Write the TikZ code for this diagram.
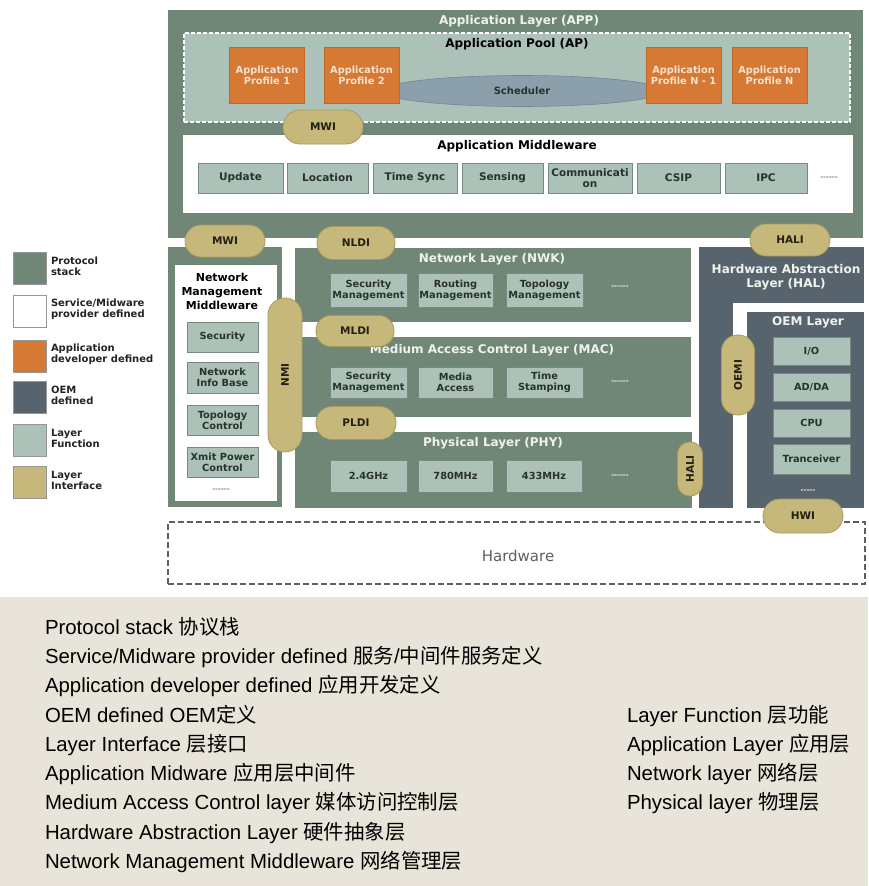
\documentclass[tikz,border=0pt]{standalone}
\usepackage{fontspec}
\setmainfont{DejaVu Sans}
\newfontfamily\notefont{Liberation Sans}
\newfontfamily\cjk{Noto Sans CJK SC}
\usetikzlibrary{shapes.geometric,fit}

% palette
\definecolor{stack}{RGB}{112,134,119}
\definecolor{pool}{RGB}{172,194,184}
\definecolor{fnfill}{RGB}{172,194,184}
\definecolor{fnline}{RGB}{118,138,127}
\definecolor{fntext}{RGB}{40,50,45}
\definecolor{iface}{RGB}{197,184,122}
\definecolor{ifline}{RGB}{168,154,94}
\definecolor{pilltext}{RGB}{35,33,20}
\definecolor{appdev}{RGB}{214,121,52}
\definecolor{appline}{RGB}{190,104,40}
\definecolor{proftext}{RGB}{248,226,205}
\definecolor{oem}{RGB}{87,100,110}
\definecolor{sched}{RGB}{140,160,172}
\definecolor{schedline}{RGB}{112,134,150}
\definecolor{notebg}{RGB}{233,228,217}
\definecolor{hwline}{RGB}{95,95,95}
\definecolor{legline}{RGB}{150,150,150}
\definecolor{legtext}{RGB}{35,35,35}
\definecolor{lighttext}{RGB}{240,242,238}

% a row of separate hyphens (no dash ligatures)
\newcommand{\hyprow}{-{}-{}-{}-{}-{}-}

\begin{document}
\begin{tikzpicture}[x=1pt,y=-1pt,
  every node/.style={inner sep=0pt, outer sep=0pt},
  region/.style={fill=stack},
  oemregion/.style={fill=oem},
  ttl/.style={font=\bfseries\fontsize{12}{14}\selectfont, text=lighttext, align=center},
  ttlk/.style={font=\bfseries\fontsize{12}{14}\selectfont, text=black, align=center},
  fnbox/.style={draw=fnline, line width=0.8pt, fill=fnfill, text=fntext, align=center,
    font=\bfseries\fontsize{10.5}{11.5}\selectfont},
  fnsmall/.style={fnbox, font=\bfseries\fontsize{9.8}{10.8}\selectfont},
  pill/.style={draw=ifline, line width=0.8pt, fill=iface, text=pilltext,
    font=\bfseries\fontsize{10.5}{11}\selectfont},
  profile/.style={fill=appdev, draw=appline, line width=0.6pt, text=proftext, align=center,
    font=\bfseries\fontsize{9.8}{10.8}\selectfont, minimum width=75pt, minimum height=56pt},
  dotsdark/.style={font=\bfseries\fontsize{7}{7}\selectfont, text=gray},
  dotslight/.style={font=\bfseries\fontsize{7}{7}\selectfont, text=lighttext},
  legbox/.style={draw=legline, line width=0.8pt, minimum width=33pt, minimum height=32pt},
  legtxt/.style={anchor=west, align=left, font=\bfseries\fontsize{10}{11}\selectfont, text=legtext},
  noteline/.style={anchor=base west, font=\notefont\fontsize{20.4}{24}\selectfont, text=black}
]
\useasboundingbox (0,0) rectangle (868,886);

% note panel
\fill[notebg] (0,597) rectangle (868,886);

% ---------------- hardware ----------------
\node[fit={(168,522) (865,584)}, fill=white, draw=hwline, line width=1.6pt,
  dash pattern=on 6pt off 3pt] (hw) {};
\node[font=\fontsize{15}{17}\selectfont, text=hwline] (hwtext) at (518,556) {Hardware};

% ---------------- application layer ----------------
\node[region, fit={(168,10) (863,238)}] (app) {};
\node[ttl] (apptitle) at (519,21) {Application Layer (APP)};
\node[fit={(184,33) (850,122)}, fill=pool, draw=white, line width=1.6pt,
  dash pattern=on 4pt off 2pt] (pool) {};
\node[ttlk] (pooltitle) at (517,44) {Application Pool (AP)};
\node[ellipse, fill=sched, draw=schedline, line width=0.6pt, minimum width=280pt,
  minimum height=31pt, font=\bfseries\fontsize{10}{11}\selectfont, text=fntext] (sched) at (522,91) {Scheduler};
\node[profile] (prof1) at (267,75) {Application\\Profile 1};
\node[profile] (prof2) at (361.5,75) {Application\\Profile 2};
\node[profile] (profn1) at (683.5,75) {Application\\Profile N - 1};
\node[profile] (profn) at (769.5,75) {Application\\Profile N};

\node[fit={(183,135) (853,213)}, fill=white] (mw) {};
\node[ttlk] (mwtitle) at (517,146) {Application Middleware};
\node[fnbox, minimum width=85pt, minimum height=30pt] (upd) at (240.5,178) {Update};
\node[fnbox, minimum width=81pt, minimum height=30pt] (loc) at (327.5,178) {Location};
\node[fnbox, minimum width=84pt, minimum height=30pt] (tsync) at (415,178) {Time Sync};
\node[fnbox, minimum width=81pt, minimum height=30pt] (sens) at (502.5,178) {Sensing};
\node[fnbox, minimum width=84pt, minimum height=30pt] (comm) at (590,178) {Communicati\\on};
\node[fnbox, minimum width=83pt, minimum height=30pt] (csip) at (678.5,178) {CSIP};
\node[fnbox, minimum width=82pt, minimum height=30pt] (ipc) at (766,178) {IPC};
\node[dotsdark] (mwdots) at (829,178) {\hyprow};
\node[pill, rounded corners=17pt, minimum width=80pt, minimum height=34pt] (mwi1) at (323,127) {MWI};

% ---------------- network management middleware ----------------
\node[region, fit={(168,247) (282,507)}] (nmm) {};
\node[fit={(175,265) (277,501)}, fill=white] (nmmin) {};
\node[font=\bfseries\fontsize{11}{14}\selectfont, text=black, align=center] (nmmtitle) at (222,291)
  {Network\\Management\\Middleware};
\node[fnsmall, minimum width=71pt, minimum height=30pt] (nsec) at (222.5,337) {Security};
\node[fnsmall, minimum width=71pt, minimum height=31pt] (nnib) at (222.5,377.5) {Network\\Info Base};
\node[fnsmall, minimum width=71pt, minimum height=30pt] (ntop) at (222.5,420) {Topology\\Control};
\node[fnsmall, minimum width=71pt, minimum height=30pt] (nxmit) at (222.5,462) {Xmit Power\\Control};
\node[dotsdark] (nmmdots) at (221,490) {\hyprow};

% ---------------- network layer ----------------
\node[region, fit={(295,248) (691,322)}] (nwk) {};
\node[ttl] (nwktitle) at (492,259) {Network Layer (NWK)};
\node[fnsmall, minimum width=77pt, minimum height=34pt] (nwsec) at (368.5,290) {Security\\Management};
\node[fnsmall, minimum width=75pt, minimum height=34pt] (nwrout) at (455.5,290) {Routing\\Management};
\node[fnsmall, minimum width=77pt, minimum height=34pt] (nwtop) at (544.5,290) {Topology\\Management};
\node[dotslight] (nwkdots) at (620,287) {\hyprow};

% ---------------- MAC layer ----------------
\node[region, fit={(295,337) (691,417)}] (mac) {};
\node[ttl] (mactitle) at (492,350) {Medium Access Control Layer (MAC)};
\node[fnsmall, minimum width=77pt, minimum height=31pt] (macsec) at (368.5,382.5) {Security\\Management};
\node[fnsmall, minimum width=75pt, minimum height=31pt] (macmed) at (455.5,382.5) {Media\\Access};
\node[fnsmall, minimum width=77pt, minimum height=31pt] (macts) at (544.5,382.5) {Time\\Stamping};
\node[dotslight] (macdots) at (620,382) {\hyprow};

% ---------------- physical layer ----------------
\node[region, fit={(295,432) (692,508)}] (phy) {};
\node[ttl] (phytitle) at (493,443) {Physical Layer (PHY)};
\node[fnsmall, minimum width=77pt, minimum height=32pt] (p24) at (368.5,476) {2.4GHz};
\node[fnsmall, minimum width=75pt, minimum height=32pt] (p780) at (455.5,476) {780MHz};
\node[fnsmall, minimum width=76pt, minimum height=32pt] (p433) at (544,476) {433MHz};
\node[dotslight] (phydots) at (620,476) {\hyprow};

% ---------------- hardware abstraction layer ----------------
\node[oemregion, fit={(699,247) (864,508)}] (hal) {};
\node[ttl] (haltitle) at (786,277) {Hardware Abstraction\\Layer (HAL)};
\node[fit={(733,303) (864,508)}, fill=white] (halgap) {};
\node[oemregion, fit={(747,312) (864,508)}] (oemlayer) {};
\node[ttl] (oemtitle) at (808,322) {OEM Layer};
\node[fnsmall, minimum width=77pt, minimum height=28pt] (io) at (811.5,351) {I/O};
\node[fnsmall, minimum width=77pt, minimum height=28pt] (adda) at (811.5,387) {AD/DA};
\node[fnsmall, minimum width=77pt, minimum height=28pt] (cpu) at (811.5,423) {CPU};
\node[fnsmall, minimum width=77pt, minimum height=30pt] (trx) at (811.5,459) {Tranceiver};
\node[dotslight] (oemdots) at (808,491) {-{}-{}-{}-{}-};

% ---------------- layer interfaces ----------------
\node[pill, rounded corners=16pt, minimum width=80pt, minimum height=32pt] (mwi2) at (225,241) {MWI};
\node[pill, rounded corners=16pt, minimum width=78pt, minimum height=33pt] (nldi) at (356,243) {NLDI};
\node[pill, rounded corners=16pt, minimum width=80pt, minimum height=32pt] (hali1) at (790,240) {HALI};
\node[pill, rounded corners=15pt, minimum width=78pt, minimum height=31pt] (mldi) at (355,331) {MLDI};
\node[pill, rounded corners=16pt, minimum width=80pt, minimum height=33pt] (pldi) at (356,423) {PLDI};
\node[pill, rotate=90, rounded corners=17pt, minimum width=154pt, minimum height=34pt] (nmi) at (285,375) {NMI};
\node[pill, rotate=90, rounded corners=12pt, minimum width=54pt, minimum height=25pt] (hali2) at (690,469) {HALI};
\node[pill, rotate=90, rounded corners=16pt, minimum width=80pt, minimum height=33pt] (oemi) at (738,375) {OEMI};
\node[pill, rounded corners=17pt, minimum width=80pt, minimum height=34pt] (hwi) at (803,516) {HWI};

% ---------------- legend ----------------
\node[legbox, fill=stack] (lg1) at (29.5,268.5) {};
\node[legtxt] (lt1) at (51,266) {Protocol\\stack};
\node[legbox, fill=white] (lg2) at (29.5,311.5) {};
\node[legtxt] (lt2) at (51,309) {Service/Midware\\provider defined};
\node[legbox, fill=appdev] (lg3) at (29.5,356.5) {};
\node[legtxt] (lt3) at (51,354) {Application\\developer defined};
\node[legbox, fill=oem] (lg4) at (29.5,397.5) {};
\node[legtxt] (lt4) at (51,395) {OEM\\defined};
\node[legbox, fill=fnfill] (lg5) at (29.5,440.5) {};
\node[legtxt] (lt5) at (51,438) {Layer\\Function};
\node[legbox, fill=iface] (lg6) at (29.5,482.5) {};
\node[legtxt] (lt6) at (51,480) {Layer\\Interface};

% ---------------- glossary ----------------
\node[noteline] (g1) at (45,634.3) {Protocol stack {\cjk 协议栈}};
\node[noteline] (g2) at (45,663.5) {Service/Midware provider defined {\cjk 服务}/{\cjk 中间件服务定义}};
\node[noteline] (g3) at (45,692.8) {Application developer defined {\cjk 应用开发定义}};
\node[noteline] (g4) at (45,722) {OEM defined OEM{\cjk 定义}};
\node[noteline] (g5) at (45,751.3) {Layer Interface {\cjk 层接口}};
\node[noteline] (g6) at (45,780.5) {Application Midware {\cjk 应用层中间件}};
\node[noteline] (g7) at (45,809.8) {Medium Access Control layer {\cjk 媒体访问控制层}};
\node[noteline] (g8) at (45,839) {Hardware Abstraction Layer {\cjk 硬件抽象层}};
\node[noteline] (g9) at (45,868.3) {Network Management Middleware {\cjk 网络管理层}};
\node[noteline] (g10) at (627,722) {Layer Function {\cjk 层功能}};
\node[noteline] (g11) at (627,751.3) {Application Layer {\cjk 应用层}};
\node[noteline] (g12) at (627,780.5) {Network layer {\cjk 网络层}};
\node[noteline] (g13) at (627,809.8) {Physical layer {\cjk 物理层}};
\end{tikzpicture}
\end{document}
